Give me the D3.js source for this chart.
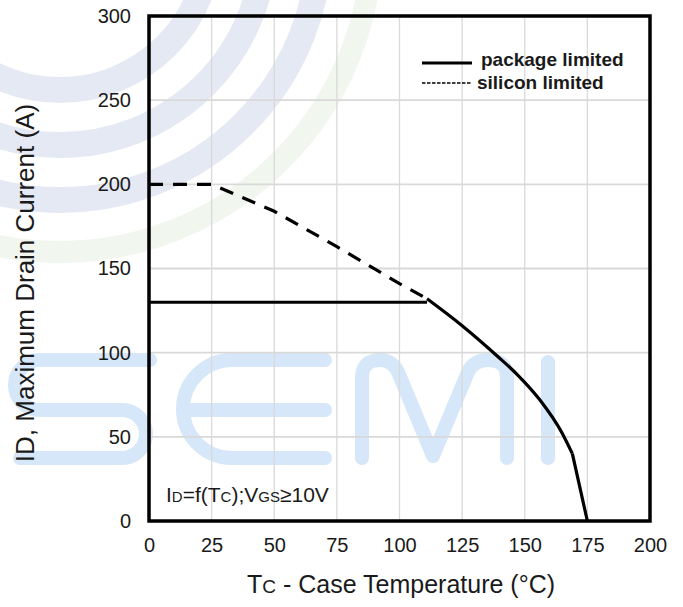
<!DOCTYPE html>
<html>
<head>
  <meta charset="utf-8">
  <title>Maximum Drain Current vs Case Temperature</title>
  <style>
    body { margin: 0; background: #fff; }
    text { font-family: "Liberation Sans", Arial, sans-serif; fill: #1a1a1a; }
  </style>
</head>
<body>
<script src="https://cdnjs.cloudflare.com/ajax/libs/d3/7.8.5/d3.min.js"></script>
<script>
var w = 683, h = 607;
var margin = {top: 16, right: 33, bottom: 86, left: 149};

// silicon limited curve (dashed up to where package limit meets it, solid after)
var siliconT = [0, 25, 50, 75, 100, 111];
var siliconI = [200, 200, 184, 163, 141, 132];
var deratingT = [111, 125, 139, 147, 156, 165, 169, 175];
var deratingI = [132, 116, 98, 87, 72, 52, 40, 0];
// package limited line
var packageT = [0, 111];
var packageI = [130, 130];

var xTicks = [0, 25, 50, 75, 100, 125, 150, 175, 200];
var yTicks = [0, 50, 100, 150, 200, 250, 300];

var svg = d3.select("body").append("svg")
  .attr("width", w)
  .attr("height", h);

// faint watermark in the background
var wm = svg.append("g").attr("fill", "none").attr("stroke-linecap", "round").attr("stroke-linejoin", "round");
[150, 205, 260].forEach(function(r) {
  wm.append("circle").attr("cx", 60).attr("cy", -60).attr("r", r)
    .attr("stroke", "#e4e9f4").attr("stroke-width", 26);
});
wm.append("circle").attr("cx", 60).attr("cy", -60).attr("r", 312)
  .attr("stroke", "#f1f6ee").attr("stroke-width", 22);
wm.append("path")
  .attr("d", "M150,360 H40 A25,25 0 0 0 40,410 H122 A24,24 0 0 1 122,458 H20" +
             " M325,360 H232 A49,49 0 0 0 232,458 H325 M190,410 H325" +
             " M362,458 V378 Q362,360 380,360 Q392,360 398,372 L433,456 L468,372 Q474,360 488,360 Q507,360 507,378 V458" +
             " M548,362 V458")
  .attr("stroke", "#d6e7f9").attr("stroke-width", 14);

var x = d3.scaleLinear().domain([0, 200]).range([margin.left, w - margin.right]);
var y = d3.scaleLinear().domain([0, 300]).range([h - margin.bottom, margin.top]);

// gridlines
svg.append("g").selectAll("line").data(xTicks.slice(1, -1)).enter().append("line")
  .attr("x1", function(d) { return x(d); }).attr("x2", function(d) { return x(d); })
  .attr("y1", y(300)).attr("y2", y(0))
  .attr("stroke", "#d9d9d9").attr("stroke-width", 1.3);
svg.append("g").selectAll("line").data(yTicks.slice(1, -1)).enter().append("line")
  .attr("x1", x(0)).attr("x2", x(200))
  .attr("y1", function(d) { return y(d); }).attr("y2", function(d) { return y(d); })
  .attr("stroke", "#d9d9d9").attr("stroke-width", 1.8);

// axes (labels only, the box is drawn separately)
var xAxis = svg.append("g")
  .attr("transform", "translate(0," + y(0) + ")")
  .call(d3.axisBottom(x).tickValues(xTicks).tickSize(0).tickPadding(17));
var yAxis = svg.append("g")
  .attr("transform", "translate(" + x(0) + ",0)")
  .call(d3.axisLeft(y).tickValues(yTicks).tickSize(0).tickPadding(18));
[xAxis, yAxis].forEach(function(a) {
  a.select(".domain").remove();
  a.selectAll("text").attr("font-size", 20).attr("font-family", "Liberation Sans, Arial, sans-serif").attr("fill", "#1a1a1a");
});

var line = d3.line()
  .x(function(d) { return x(d[0]); })
  .y(function(d) { return y(d[1]); });

svg.append("path")
  .datum(d3.zip(siliconT, siliconI))
  .attr("d", line)
  .attr("fill", "none").attr("stroke", "#000").attr("stroke-width", 3.2)
  .attr("stroke-dasharray", "14,10");

// derating part: smooth down to 169 °C, then a straight drop to zero
var derate = d3.zip(deratingT, deratingI);
svg.append("path")
  .datum(derate.slice(0, -1))
  .attr("d", line.curve(d3.curveMonotoneX))
  .attr("fill", "none").attr("stroke", "#000").attr("stroke-width", 3.2);
line.curve(d3.curveLinear);
svg.append("path")
  .datum(derate.slice(-2))
  .attr("d", line)
  .attr("fill", "none").attr("stroke", "#000").attr("stroke-width", 3.2);

svg.append("path")
  .datum(d3.zip(packageT, packageI))
  .attr("d", line)
  .attr("fill", "none").attr("stroke", "#000").attr("stroke-width", 3);

// plot frame
svg.append("rect")
  .attr("x", x(0)).attr("y", y(300))
  .attr("width", x(200) - x(0)).attr("height", y(0) - y(300))
  .attr("fill", "none").attr("stroke", "#000").attr("stroke-width", 3.5);

// legend
var lg = svg.append("g");
lg.append("line").attr("x1", 422).attr("x2", 472).attr("y1", 63).attr("y2", 63)
  .attr("stroke", "#000").attr("stroke-width", 3.2);
lg.append("line").attr("x1", 422).attr("x2", 471).attr("y1", 83).attr("y2", 83)
  .attr("stroke", "#000").attr("stroke-width", 1.5).attr("stroke-dasharray", "3.5,1.5");
lg.append("text").attr("x", 481).attr("y", 66).attr("font-size", 19).attr("font-weight", "bold").text("package limited");
lg.append("text").attr("x", 477).attr("y", 89).attr("font-size", 19).attr("font-weight", "bold").text("silicon limited");

// condition note
var note = svg.append("text").attr("x", 166).attr("y", 502).attr("font-size", 21);
note.append("tspan").text("I");
note.append("tspan").attr("font-size", 15).text("D");
note.append("tspan").text("=f(T");
note.append("tspan").attr("font-size", 15).text("C");
note.append("tspan").text(");V");
note.append("tspan").attr("font-size", 15).text("GS");
note.append("tspan").text("≥10V");

// axis titles
var xt = svg.append("text")
  .attr("x", 401).attr("y", 593)
  .attr("text-anchor", "middle").attr("font-size", 25);
xt.append("tspan").text("T");
xt.append("tspan").attr("font-size", 19).text("C");
xt.append("tspan").text(" - Case Temperature (°C)");

svg.append("text")
  .attr("transform", "translate(34," + 283 + ") rotate(-90)")
  .attr("text-anchor", "middle").attr("font-size", 26)
  .text("ID, Maximum Drain Current (A)");
</script>
</body>
</html>
